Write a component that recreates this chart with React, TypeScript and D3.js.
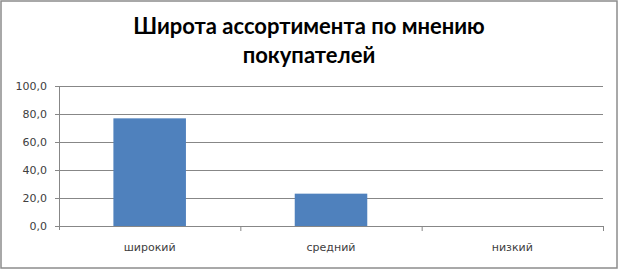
import React from "react";
import * as d3 from "d3";

const categories = ["широкий", "средний", "низкий"];
const values = [76.9, 23.1, 0];
const yTicks = [0, 20, 40, 60, 80, 100];
const titleLines = ["Широта ассортимента по мнению", "покупателей"];

export default function App() {
  const W = 619, H = 269;
  const left = 59, right = 603, top = 86, bottom = 226;
  const x = d3.scaleBand<string>().domain(categories).range([left, right]).paddingInner(0.6).paddingOuter(0.3);
  const xb = d3.scaleBand<string>().domain(categories).range([left, right]);
  const y = d3.scaleLinear().domain([0, 100]).range([bottom, top]);
  const fmt = (v: number) => d3.format(".1f")(v).replace(".", ",");
  const grid = "#878787";
  const lab = "'DejaVu Sans', Verdana, sans-serif";
  return (
    <svg width={W} height={H} style={{ position: "absolute", left: 0, top: 0 }}>
      <rect x={1} y={1} width={W - 3} height={H - 2} fill="#fff" stroke="#8c8c8c" strokeWidth={1.5} />
      {titleLines.map((t, i) => (
        <text key={i} x={309} y={34 + i * 29} textAnchor="middle" fontFamily="Lato, 'Open Sans', sans-serif" fontWeight="bold" fontSize={22} fill="#000">{t}</text>
      ))}
      {yTicks.map((t) => (
        <g key={t}>
          <line x1={left - 4} x2={right} y1={y(t) + 0.5} y2={y(t) + 0.5} stroke={grid} strokeWidth={1} />
          <text x={47} y={y(t) + 4} textAnchor="end" fontFamily={lab} fontSize={11} fill="#404040">{fmt(t)}</text>
        </g>
      ))}
      <line x1={left + 0.5} x2={left + 0.5} y1={top} y2={bottom + 4} stroke={grid} />
      {categories.map((c) => (
        <line key={c} x1={(xb(c) as number) + xb.bandwidth() + 0.5} x2={(xb(c) as number) + xb.bandwidth() + 0.5} y1={bottom} y2={bottom + 5} stroke={grid} />
      ))}
      {categories.map((c, i) => (
        <rect key={c} x={x(c)} y={y(values[i])} width={x.bandwidth()} height={bottom - y(values[i])} fill="#4F81BD" />
      ))}
      {categories.map((c) => (
        <text key={c} x={(xb(c) as number) + xb.bandwidth() / 2} y={251} textAnchor="middle" fontFamily={lab} fontSize={11} fill="#404040">{c}</text>
      ))}
    </svg>
  );
}
